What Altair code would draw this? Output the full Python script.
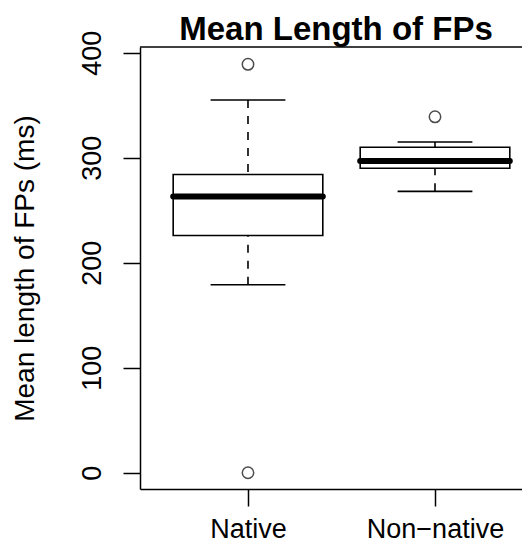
import altair as alt
import pandas as pd

# ---- data ----
groups = ["Native", "Non-native"]
positions = [1, 2]
lower_whisker = [179, 268]
q1 = [226, 290]
median = [263, 297]
q3 = [284, 310]
upper_whisker = [355, 315]

outlier_group = ["Native", "Native", "Non-native"]
outlier_value = [389, 0, 339]

y_ticks = [0, 100, 200, 300, 400]
title_text = ["Mean Length of FPs"]

box_half = 0.4   # R boxwex 0.8
cap_half = 0.2   # R staplewex 0.5

pos_of = dict(zip(groups, positions))

boxes = pd.DataFrame({
    "group": groups,
    "pos": positions,
    "lo": lower_whisker,
    "q1": q1,
    "med": median,
    "q3": q3,
    "hi": upper_whisker,
})
boxes["left"] = boxes["pos"] - box_half
boxes["right"] = boxes["pos"] + box_half
boxes["cap_l"] = boxes["pos"] - cap_half
boxes["cap_r"] = boxes["pos"] + cap_half

outs = pd.DataFrame({
    "group": outlier_group,
    "value": outlier_value,
})
outs["pos"] = outs["group"].map(pos_of)

FONT = "Liberation Sans"
W, H = 382, 442
PX_PER_UNIT = 187.0
x_lo = 0.4225

xscale = alt.Scale(domain=[x_lo, x_lo + W / PX_PER_UNIT], nice=False, zero=False)
yscale = alt.Scale(domain=[-15.5, 405.5], nice=False, zero=False)

xaxis = alt.Axis(
    values=positions,
    labelExpr="datum.value == 1 ? 'Native' : 'Non\u2212native'",
    title=None, grid=False, tickSize=17, labelPadding=37,
    labelBaseline="bottom", labelAlign="center", labelFlush=False,
    labelOverlap=False,
)
yaxis = alt.Axis(
    values=y_ticks, title="Mean length of FPs (ms)", grid=False,
    tickSize=17, labelAngle=270, labelAlign="center",
    labelBaseline="alphabetic", labelPadding=23, labelFlush=False,
    labelOverlap=False,
    titleAngle=270, titleAlign="center", titleBaseline="alphabetic",
    titleX=-107, titleY=H / 2, titleFontWeight="normal",
)

def X(field):
    return alt.X(field, type="quantitative", scale=xscale, axis=xaxis)

def Y(field):
    return alt.Y(field, type="quantitative", scale=yscale, axis=yaxis)

base = alt.Chart(boxes)

upper_wh = base.mark_rule(color="black", strokeWidth=1.6, strokeDash=[8, 8]).encode(
    x=X("pos"), y=Y("hi"), y2="q3")
lower_wh = base.mark_rule(color="black", strokeWidth=1.6, strokeDash=[8, 8]).encode(
    x=X("pos"), y=Y("lo"), y2="q1")
upper_cap = base.mark_rule(color="black", strokeWidth=1.6).encode(
    x=X("cap_l"), x2="cap_r", y=Y("hi"))
lower_cap = base.mark_rule(color="black", strokeWidth=1.6).encode(
    x=X("cap_l"), x2="cap_r", y=Y("lo"))
box = base.mark_rect(fill="white", stroke="black", strokeWidth=1.6).encode(
    x=X("left"), x2="right", y=Y("q1"), y2="q3")
med = base.mark_rule(color="black", strokeWidth=6, strokeCap="round").encode(
    x=X("left"), x2="right", y=Y("med"))
points = alt.Chart(outs).mark_point(
    shape="circle", filled=False, size=130, strokeWidth=1.5, color="black"
).encode(x=X("pos"), y=Y("value"))

top_frame = alt.Chart(pd.DataFrame({"k": [0]})).mark_rule(
    color="black", strokeWidth=1.5
).encode(x=alt.value(0), x2=alt.value(W), y=alt.value(0))

title_mark = alt.Chart(pd.DataFrame({"t": title_text})).mark_text(
    font=FONT, fontSize=33, fontWeight="bold", color="black",
    align="center", baseline="alphabetic",
).encode(text="t:N", x=alt.value(196), y=alt.value(-7))

chart = alt.layer(
    upper_wh, lower_wh, upper_cap, lower_cap, box, med, points, top_frame,
    title_mark,
).properties(
    width=W, height=H,
    autosize=alt.AutoSizeParams(type="none"),
    padding={"left": 132, "top": 39, "right": 0, "bottom": 55},
).configure_view(stroke=None).configure_axis(
    domainColor="black", domainWidth=1.5, tickColor="black", tickWidth=1.5,
    labelFont=FONT, labelFontSize=27, labelColor="black",
    titleFont=FONT, titleFontSize=28, titleColor="black",
)

chart.save("out.html", embed_options={"renderer": "svg", "actions": False})
